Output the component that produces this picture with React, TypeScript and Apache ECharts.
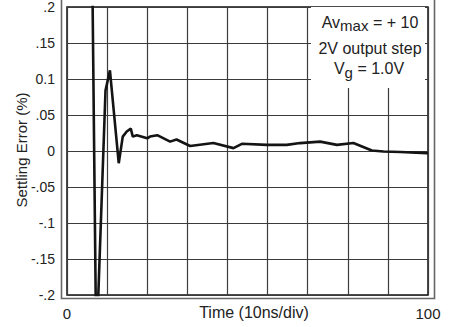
import React, { useEffect, useRef } from "react";
import * as echarts from "echarts";

// Time in divisions (10 ns/div), settling error in %
const timeDiv = [0.63, 0.73, 0.96, 1.07, 1.29, 1.39, 1.49, 1.59, 1.64, 1.74, 2.0, 2.07, 2.25, 2.57, 2.73, 3.07, 3.65, 4.15, 4.36, 4.98, 5.48, 5.81, 6.31, 6.73, 7.14, 7.6, 7.89, 8.31, 8.97, 9.0];
const errorPct = [0.25, -0.28, 0.084, 0.112, -0.017, 0.02, 0.027, 0.031, 0.02, 0.022, 0.0176, 0.02, 0.022, 0.013, 0.016, 0.007, 0.011, 0.004, 0.01, 0.0085, 0.0085, 0.011, 0.013, 0.0085, 0.011, 0.0007, -0.0007, -0.0013, -0.003, -0.003];
const yTickLabels = ["-.2", "-.15", "-.1", "-.05", "0", ".05", "0.1", ".15", ".2"];
const xTickLabels: Record<number, string> = { 0: "0", 9: "100" };

const FONT = "'Liberation Sans', Arial, sans-serif";

export default function App() {
  const ref = useRef<HTMLDivElement>(null);
  useEffect(() => {
    if (!ref.current) return;
    const chart = echarts.init(ref.current, null, { renderer: "svg" });
    const data = timeDiv.map((t, i) => [t, errorPct[i]]);
    chart.setOption({
      animation: false,
      backgroundColor: "#ffffff",
      textStyle: { fontFamily: FONT },
      grid: {
        left: 67,
        top: 4,
        width: 361,
        height: 291,
        show: true,
        borderColor: "#111",
        borderWidth: 1.5,
        backgroundColor: "transparent",
      },
      xAxis: {
        type: "value",
        min: 0,
        max: 9,
        interval: 1,
        axisLine: { show: false },
        axisTick: { show: false },
        splitLine: { show: true, lineStyle: { color: "#3c3c3c", width: 1.2 } },
        axisLabel: {
          margin: 11,
          fontSize: 15,
          color: "#222",
          fontFamily: FONT,
          formatter: (v: number) => xTickLabels[Math.round(v)] ?? "",
        },
      },
      yAxis: {
        type: "value",
        min: -0.2,
        max: 0.2,
        interval: 0.05,
        axisLine: { show: false },
        axisTick: { show: false },
        splitLine: { show: true, lineStyle: { color: "#3c3c3c", width: 1.2 } },
        axisLabel: {
          margin: 12,
          fontSize: 14,
          color: "#222",
          fontFamily: FONT,
          formatter: (v: number) => yTickLabels[Math.round(v / 0.05) + 4] ?? "",
        },
      },
      series: [
        {
          type: "line",
          data,
          showSymbol: false,
          clip: true,
          lineStyle: { color: "#141414", width: 2.6 },
          z: 5,
        },
      ],
      graphic: [
        {
          type: "polyline",
          z: 20,
          shape: { points: [[61.5, 0], [61.5, 298.5], [434.5, 298.5], [434.5, 0]] },
          style: { stroke: "#666", lineWidth: 1.6, fill: "none" },
        },
        {
          type: "rect",
          z: 20,
          shape: { x: 311, y: 7, width: 114, height: 81 },
          style: { fill: "#ffffff" },
        },
        {
          type: "text",
          z: 21,
          x: 370,
          y: 22,
          style: {
            text: "{a|Av}{s|max}{a| = + 10}",
            align: "center",
            verticalAlign: "middle",
            rich: {
              a: { fontSize: 16, fontFamily: FONT, fill: "#222" },
              s: { fontSize: 15, fontFamily: FONT, fill: "#222", padding: [7, 0, 0, 0] },
            },
          },
        },
        {
          type: "text",
          z: 21,
          x: 370,
          y: 48,
          style: {
            text: "2V output step",
            align: "center",
            verticalAlign: "middle",
            fontSize: 16,
            fontFamily: FONT,
            fill: "#222",
          },
        },
        {
          type: "text",
          z: 21,
          x: 369,
          y: 68,
          style: {
            text: "{a|V}{s|g}{a| = 1.0V}",
            align: "center",
            verticalAlign: "middle",
            rich: {
              a: { fontSize: 16, fontFamily: FONT, fill: "#222" },
              s: { fontSize: 15, fontFamily: FONT, fill: "#222", padding: [8, 0, 0, 0] },
            },
          },
        },
        {
          type: "text",
          z: 21,
          x: 254,
          y: 312,
          style: {
            text: "Time (10ns/div)",
            align: "center",
            verticalAlign: "middle",
            fontSize: 16,
            fontFamily: FONT,
            fill: "#222",
          },
        },
        {
          type: "text",
          z: 21,
          x: 21,
          y: 150,
          rotation: Math.PI / 2,
          style: {
            text: "Settling Error (%)",
            align: "center",
            verticalAlign: "middle",
            fontSize: 15,
            fontFamily: FONT,
            fill: "#222",
          },
        },
      ],
    });
    return () => chart.dispose();
  }, []);
  return (
    <div
      ref={ref}
      style={{ position: "fixed", left: 0, top: 0, width: 457, height: 327 }}
    />
  );
}
